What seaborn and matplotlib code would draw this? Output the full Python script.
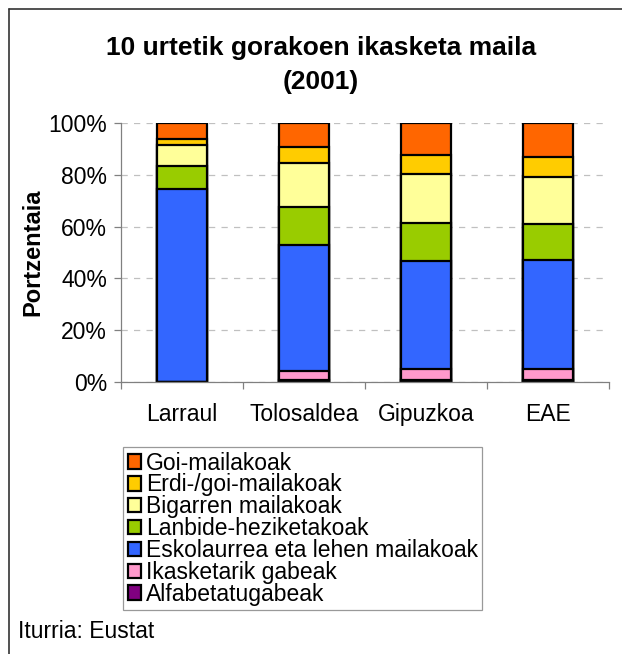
import matplotlib
matplotlib.use("Agg")
import matplotlib.pyplot as plt
import numpy as np
import pandas as pd
import seaborn as sns
from matplotlib.lines import Line2D
from matplotlib.patches import Patch
from matplotlib.ticker import FixedLocator, PercentFormatter

# data (percent of population over 10, 2001)
regions = ["Larraul", "Tolosaldea", "Gipuzkoa", "EAE"]
levels = ["Alfabetatugabeak", "Ikasketarik gabeak", "Eskolaurrea eta lehen mailakoak",
          "Lanbide-heziketakoak", "Bigarren mailakoak", "Erdi-/goi-mailakoak", "Goi-mailakoak"]
alfabetatugabeak = [0.0, 0.8, 0.9, 0.9]
ikasketarik_gabeak = [0.0, 3.4, 4.0, 4.0]
eskolaurrea_lehen = [74.5, 48.7, 41.9, 42.2]
lanbide = [9.0, 14.5, 14.5, 13.8]
bigarren = [8.1, 17.0, 18.9, 18.4]
erdi_goi = [2.1, 6.5, 7.4, 7.6]
goi = [6.3, 9.1, 12.4, 13.1]
colors = ["#800080", "#FF99CC", "#3366FF", "#99CC00", "#FFFF99", "#FFCC00", "#FF6600"]

df = pd.DataFrame({
    "region": regions,
    levels[0]: alfabetatugabeak,
    levels[1]: ikasketarik_gabeak,
    levels[2]: eskolaurrea_lehen,
    levels[3]: lanbide,
    levels[4]: bigarren,
    levels[5]: erdi_goi,
    levels[6]: goi,
})
# normalise to 100% and stack
shares = df[levels].div(df[levels].sum(axis=1), axis=0) * 100
cum = shares.cumsum(axis=1)

sns.set_style("white")
plt.rcParams["font.family"] = ["Liberation Sans", "DejaVu Sans"]
plt.rcParams["text.color"] = "black"
plt.rcParams["axes.labelcolor"] = "black"
plt.rcParams["xtick.labelcolor"] = "black"
plt.rcParams["ytick.labelcolor"] = "black"
fs = 16.5

fig = plt.figure(figsize=(6.22, 6.54), dpi=100)
ax = fig.add_axes([121 / 622, 1 - 382 / 654, 488 / 622, 259 / 654])

# draw tallest cumulative first so lower segments sit on top
for level, color in zip(reversed(levels), reversed(colors)):
    sns.barplot(x=df["region"], y=cum[level], color=color, width=0.41,
                edgecolor="black", linewidth=1.6, saturation=1, ax=ax, zorder=3)

ax.set_xlim(-0.5, 3.5)
ax.set_ylim(0, 100)
ax.yaxis.set_major_locator(FixedLocator([0, 20, 40, 60, 80, 100]))
ax.yaxis.set_major_formatter(PercentFormatter(decimals=0))
ax.grid(axis="y", color="#c0c0c0", linestyle=(0, (5, 5)), linewidth=0.9, zorder=0)
ax.grid(axis="x", visible=False)
for side in ["top", "right"]:
    ax.spines[side].set_visible(False)
for side in ["left", "bottom"]:
    ax.spines[side].set_color("#808080")
    ax.spines[side].set_linewidth(0.9)
    ax.spines[side].set_zorder(4)

ax.tick_params(axis="y", which="major", direction="out", length=5, width=0.9,
               color="#808080", labelcolor="black", labelsize=fs, pad=5, left=True)
ax.tick_params(axis="x", which="major", length=0, labelcolor="black",
               labelsize=fs, pad=15)
ax.xaxis.set_minor_locator(FixedLocator([-0.5, 0.5, 1.5, 2.5, 3.5]))
ax.tick_params(axis="x", which="minor", direction="out", length=5, width=0.9,
               color="#808080", bottom=True)
ax.set_xlabel("")
ax.set_ylabel("Portzentaia", fontsize=17, fontweight="bold", labelpad=3,
              color="black")

fig.text(0.516, 1 - 48 / 654, "10 urtetik gorakoen ikasketa maila", ha="center",
         va="center", fontsize=19, fontweight="bold", color="black")
fig.text(0.516, 1 - 82 / 654, "(2001)", ha="center", va="center",
         fontsize=19, fontweight="bold", color="black")

handles = [Patch(facecolor=c, edgecolor="black", linewidth=1.6, label=l)
           for l, c in zip(reversed(levels), reversed(colors))]
leg = fig.legend(handles=handles, loc="upper left",
                 bbox_to_anchor=(123 / 622, 1 - 447 / 654), fontsize=fs,
                 frameon=True, fancybox=False, edgecolor="#808080",
                 borderpad=0.2, handlelength=0.6, handleheight=0.6,
                 handletextpad=0.2, labelspacing=-0.05, borderaxespad=0)
leg.get_frame().set_linewidth(0.9)
leg._legend_box.align = "left"
for t in leg.get_texts():
    t.set_color("black")

fig.text(18 / 622, 1 - 632 / 654, "Iturria: Eustat", ha="left", va="center",
         fontsize=fs, color="black")

# chart frame (top and left edges)
fig.add_artist(Line2D([9 / 622, 1], [1 - 9 / 654] * 2, color="#333333", linewidth=1.2))
fig.add_artist(Line2D([9 / 622] * 2, [0, 1 - 9 / 654], color="#333333", linewidth=1.2))

fig.savefig("out.png", dpi=100)
